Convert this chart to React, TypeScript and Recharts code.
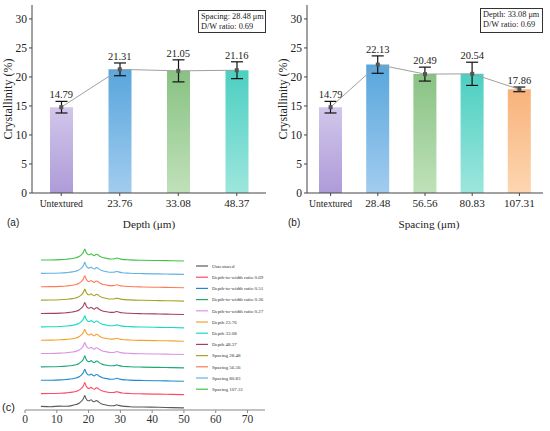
import React from "react";
import {
  ComposedChart,
  LineChart,
  Bar,
  Line,
  ErrorBar,
  LabelList,
  Cell,
  XAxis,
  YAxis,
  Legend,
} from "recharts";

// (a) crystallinity vs depth
const depthCats = ["Untextured", "23.76", "33.08", "48.37"];
const depthValues = [14.79, 21.31, 21.05, 21.16];
const depthErrors = [1.0, 1.1, 1.9, 1.45];

// (b) crystallinity vs spacing
const spacingCats = ["Untextured", "28.48", "56.56", "80.83", "107.31"];
const spacingValues = [14.79, 22.13, 20.49, 20.54, 17.86];
const spacingErrors = [1.0, 1.5, 1.2, 2.0, 0.4];

const crystTicks = [0, 5, 10, 15, 20, 25, 30];

// (c) XRD patterns, 2theta (deg) and intensity (a.u.)
const twoTheta = [
  5, 8, 11, 13, 15, 16, 17, 17.8, 18.4, 18.8, 19.2, 19.8, 20.3, 20.8, 21.3, 21.8,
  22.4, 22.8, 23.4, 24.2, 25.5, 27, 28.2, 28.8, 29.4, 30.5, 33, 37, 42, 46, 50,
];
const texturedIntensity = [
  1.0, 1.1, 1.4, 1.8, 2.5, 3.2, 4.5, 6.5, 9, 12, 9, 6.5, 6.3, 7.3, 6, 5.4,
  6.8, 6.6, 5, 3.8, 2.8, 2.1, 2.3, 3.0, 2.5, 1.7, 1.2, 0.8, 0.5, 0.3, 0,
];
const untexturedIntensity = [
  1.6, 1.3, 1.9, 1.7, 2.6, 3.4, 4.8, 7, 9.5, 12.5, 9.5, 7.2, 7.4, 8.3, 6.8, 6.2,
  7.4, 7.0, 5.4, 4.0, 3.0, 2.2, 2.4, 3.2, 2.6, 1.9, 1.3, 1.0, 0.7, 0.4, 0.1,
];
const xrdNames = [
  "Untextured",
  "Depth-to-width ratio 0.69",
  "Depth-to-width ratio 0.51",
  "Depth-to-width ratio 0.36",
  "Depth-to-width ratio 0.27",
  "Depth 23.76",
  "Depth 33.08",
  "Depth 48.37",
  "Spacing 28.48",
  "Spacing 56.56",
  "Spacing 80.83",
  "Spacing 107.31",
];
const xrdTicks = [0, 10, 20, 30, 40, 50, 60, 70];

const xrdColors = [
  "#5a5a5a", "#ff4a66", "#1f8ad2", "#1caa74", "#d993e2", "#f2a232",
  "#14dcc4", "#a2405e", "#a3a325", "#ff7a55", "#62b2e2", "#42c244",
];
const barGrad: Record<string, [string, string]> = {
  Untextured: ["#d2c6eb", "#ad9bd8"],
  blue: ["#58a6dc", "#a2ccef"],
  green: ["#88c283", "#c0e1ba"],
  teal: ["#4ccfc1", "#9de6dd"],
  orange: ["#f8b27a", "#fdd6b1"],
};
const depthFill = ["Untextured", "blue", "green", "teal"];
const spacingFill = ["Untextured", "blue", "green", "teal", "orange"];

const STEP = 13.36;
const SERIF = "'Liberation Serif', 'Times New Roman', serif";
const SANS = "'Liberation Sans', Arial, sans-serif";
const FRAME = "#444";

const depthData = depthCats.map((c, i) => ({ c, v: depthValues[i], e: depthErrors[i] }));
const spacingData = spacingCats.map((c, i) => ({ c, v: spacingValues[i], e: spacingErrors[i] }));

const xrdData = twoTheta.map((t, i) => {
  const row: Record<string, number> = { t };
  xrdNames.forEach((_, k) => {
    row["s" + k] = (k === 0 ? untexturedIntensity[i] : texturedIntensity[i]) + k * STEP;
  });
  return row;
});

function CatTick(props: any) {
  const { x, y, payload } = props;
  const word = payload.value === "Untextured";
  return (
    <text x={x} y={y + 9} textAnchor="middle" fontFamily={SERIF} fontSize={word ? 9.6 : 11.2} fill="#222">
      {payload.value}
    </text>
  );
}

function SquareDot(props: any) {
  const { cx, cy, index } = props;
  if (cx == null || cy == null) return null;
  return <rect key={"sq" + index} x={cx - 2} y={cy - 2} width={4} height={4} fill="#555" />;
}

function CrystChart({ data, fills, idp, xlabel }: { data: any[]; fills: string[]; idp: string; xlabel: string }) {
  return (
    <ComposedChart
      width={275}
      height={235}
      data={data}
      margin={{ top: 5, right: idp === "a" ? 9 : 7, left: 0, bottom: 0 }}
    >
      <defs>
        {Object.keys(barGrad).map((k) => (
          <linearGradient key={k} id={idp + k} x1="0" y1="0" x2="0" y2="1">
            <stop offset="0%" stopColor={barGrad[k][0]} />
            <stop offset="100%" stopColor={barGrad[k][1]} />
          </linearGradient>
        ))}
      </defs>
      <XAxis
        dataKey="c"
        height={42}
        tick={<CatTick />}
        tickSize={3}
        axisLine={{ stroke: FRAME }}
        tickLine={{ stroke: FRAME }}
        interval={0}
        label={{
          value: xlabel,
          position: "insideBottom",
          offset: 7,
          dx: idp === "b" ? 4 : 0,
          style: { fontFamily: SERIF, fontSize: 11.2, fill: "#222" },
        }}
      />
      <XAxis xAxisId="top" dataKey="c" orientation="top" height={0} tick={false} tickLine={false} axisLine={{ stroke: FRAME }} />
      <YAxis
        width={32}
        domain={[0, 32.4]}
        ticks={crystTicks}
        tickSize={3}
        tickMargin={2}
        axisLine={{ stroke: FRAME }}
        tickLine={{ stroke: FRAME }}
        tick={{ fontFamily: SERIF, fontSize: 11.5, fill: "#222" }}
        label={{
          value: "Crystallinity (%)",
          angle: -90,
          position: "insideLeft",
          offset: 8,
          style: { textAnchor: "middle", fontFamily: SERIF, fontSize: 12, fill: "#222" },
        }}
      />
      <YAxis yAxisId="r" orientation="right" width={0} domain={[0, 32.4]} tick={false} tickLine={false} axisLine={{ stroke: FRAME }} />
      <Bar dataKey="v" barSize={23} isAnimationActive={false}>
        {data.map((_, i) => (
          <Cell key={i} fill={`url(#${idp}${fills[i]})`} />
        ))}
        <ErrorBar dataKey="e" width={6} stroke="#111" strokeWidth={1.2} direction="y" />
      </Bar>
      <Line dataKey="v" stroke="#a0a0a0" strokeWidth={1} dot={<SquareDot />} activeDot={false} isAnimationActive={false} />
      <Line
        dataKey={(d: any) => d.v + d.e}
        stroke="none"
        dot={false}
        activeDot={false}
        isAnimationActive={false}
      >
        <LabelList
          dataKey="v"
          position="top"
          offset={3}
          formatter={(v: any) => Number(v).toFixed(2)}
          style={{ fontFamily: SERIF, fontSize: 10.5, fill: "#222" }}
        />
      </Line>
    </ComposedChart>
  );
}

function XrdLegend() {
  return (
    <svg width={80} height={140} style={{ display: "block" }}>
      {xrdNames.map((n, k) => (
        <g key={n}>
          <line x1={0} x2={12} y1={5 + k * 11.2} y2={5 + k * 11.2} stroke={xrdColors[k]} strokeWidth={1.2} />
          <text x={16} y={6.7 + k * 11.2} fontFamily={SERIF} fontSize={5} fill="#333">
            {n}
          </text>
        </g>
      ))}
    </svg>
  );
}

function XrdChart() {
  return (
    <LineChart width={275} height={206} data={xrdData} margin={{ top: 10, right: 10, left: 25, bottom: 0 }}>
      <XAxis
        dataKey="t"
        type="number"
        domain={[0, 75.5]}
        ticks={xrdTicks}
        height={21}
        tickSize={3}
        tickMargin={2}
        axisLine={{ stroke: "#888", strokeWidth: 1.2 }}
        tickLine={{ stroke: "#888" }}
        tick={{ fontFamily: SERIF, fontSize: 11.5, fill: "#333" }}
      />
      <XAxis xAxisId="top" dataKey="t" type="number" domain={[0, 75.5]} orientation="top" height={0} tick={false} tickLine={false} axisLine={{ stroke: "#888", strokeWidth: 1.2 }} />
      <YAxis width={0} domain={[-2, 173]} tick={false} tickLine={false} axisLine={{ stroke: "#888", strokeWidth: 1.2 }} />
      <YAxis yAxisId="r" orientation="right" width={0} domain={[-2, 173]} tick={false} tickLine={false} axisLine={{ stroke: "#888", strokeWidth: 1.2 }} />
      {xrdNames.map((n, k) => (
        <Line
          key={n}
          dataKey={"s" + k}
          name={n}
          stroke={xrdColors[k]}
          strokeWidth={1.1}
          dot={false}
          activeDot={false}
          type="monotone"
          isAnimationActive={false}
        />
      ))}
      <Legend
        layout="vertical"
        align="center"
        verticalAlign="middle"
        content={<XrdLegend />}
        wrapperStyle={{ left: 196, top: 36, width: 80, height: 140 }}
      />
    </LineChart>
  );
}

const boxStyle: React.CSSProperties = {
  position: "absolute",
  border: "1px solid #333",
  background: "#fff",
  fontFamily: SERIF,
  fontSize: 8.3,
  lineHeight: "10px",
  color: "#222",
  padding: "1px 2px",
  boxSizing: "border-box",
  whiteSpace: "nowrap",
};

export default function App() {
  return (
    <div style={{ position: "absolute", left: 0, top: 0, width: 550, height: 431, background: "#fff", overflow: "hidden" }}>
      <div style={{ position: "absolute", left: 0, top: 225 }}>
        <XrdChart />
      </div>
      <div style={{ position: "absolute", left: 0, top: 0 }}>
        <CrystChart data={depthData} fills={depthFill} idp="a" xlabel="Depth (μm)" />
      </div>
      <div style={{ position: "absolute", left: 275, top: 0 }}>
        <CrystChart data={spacingData} fills={spacingFill} idp="b" xlabel="Spacing (μm)" />
      </div>
      <div style={{ ...boxStyle, left: 198, top: 10, width: 68, height: 23 }}>
        <div>Spacing: 28.48 μm</div>
        <div>D/W ratio: 0.69</div>
      </div>
      <div style={{ ...boxStyle, left: 480, top: 8, width: 63, height: 25 }}>
        <div>Depth: 33.08 μm</div>
        <div>D/W ratio: 0.69</div>
      </div>
      <div style={{ position: "absolute", left: 7, top: 217, fontFamily: SANS, fontSize: 10, color: "#222" }}>(a)</div>
      <div style={{ position: "absolute", left: 288, top: 217, fontFamily: SANS, fontSize: 10, color: "#222" }}>(b)</div>
      <div style={{ position: "absolute", left: 2, top: 401, fontFamily: SANS, fontSize: 11, color: "#222" }}>(c)</div>
    </div>
  );
}
